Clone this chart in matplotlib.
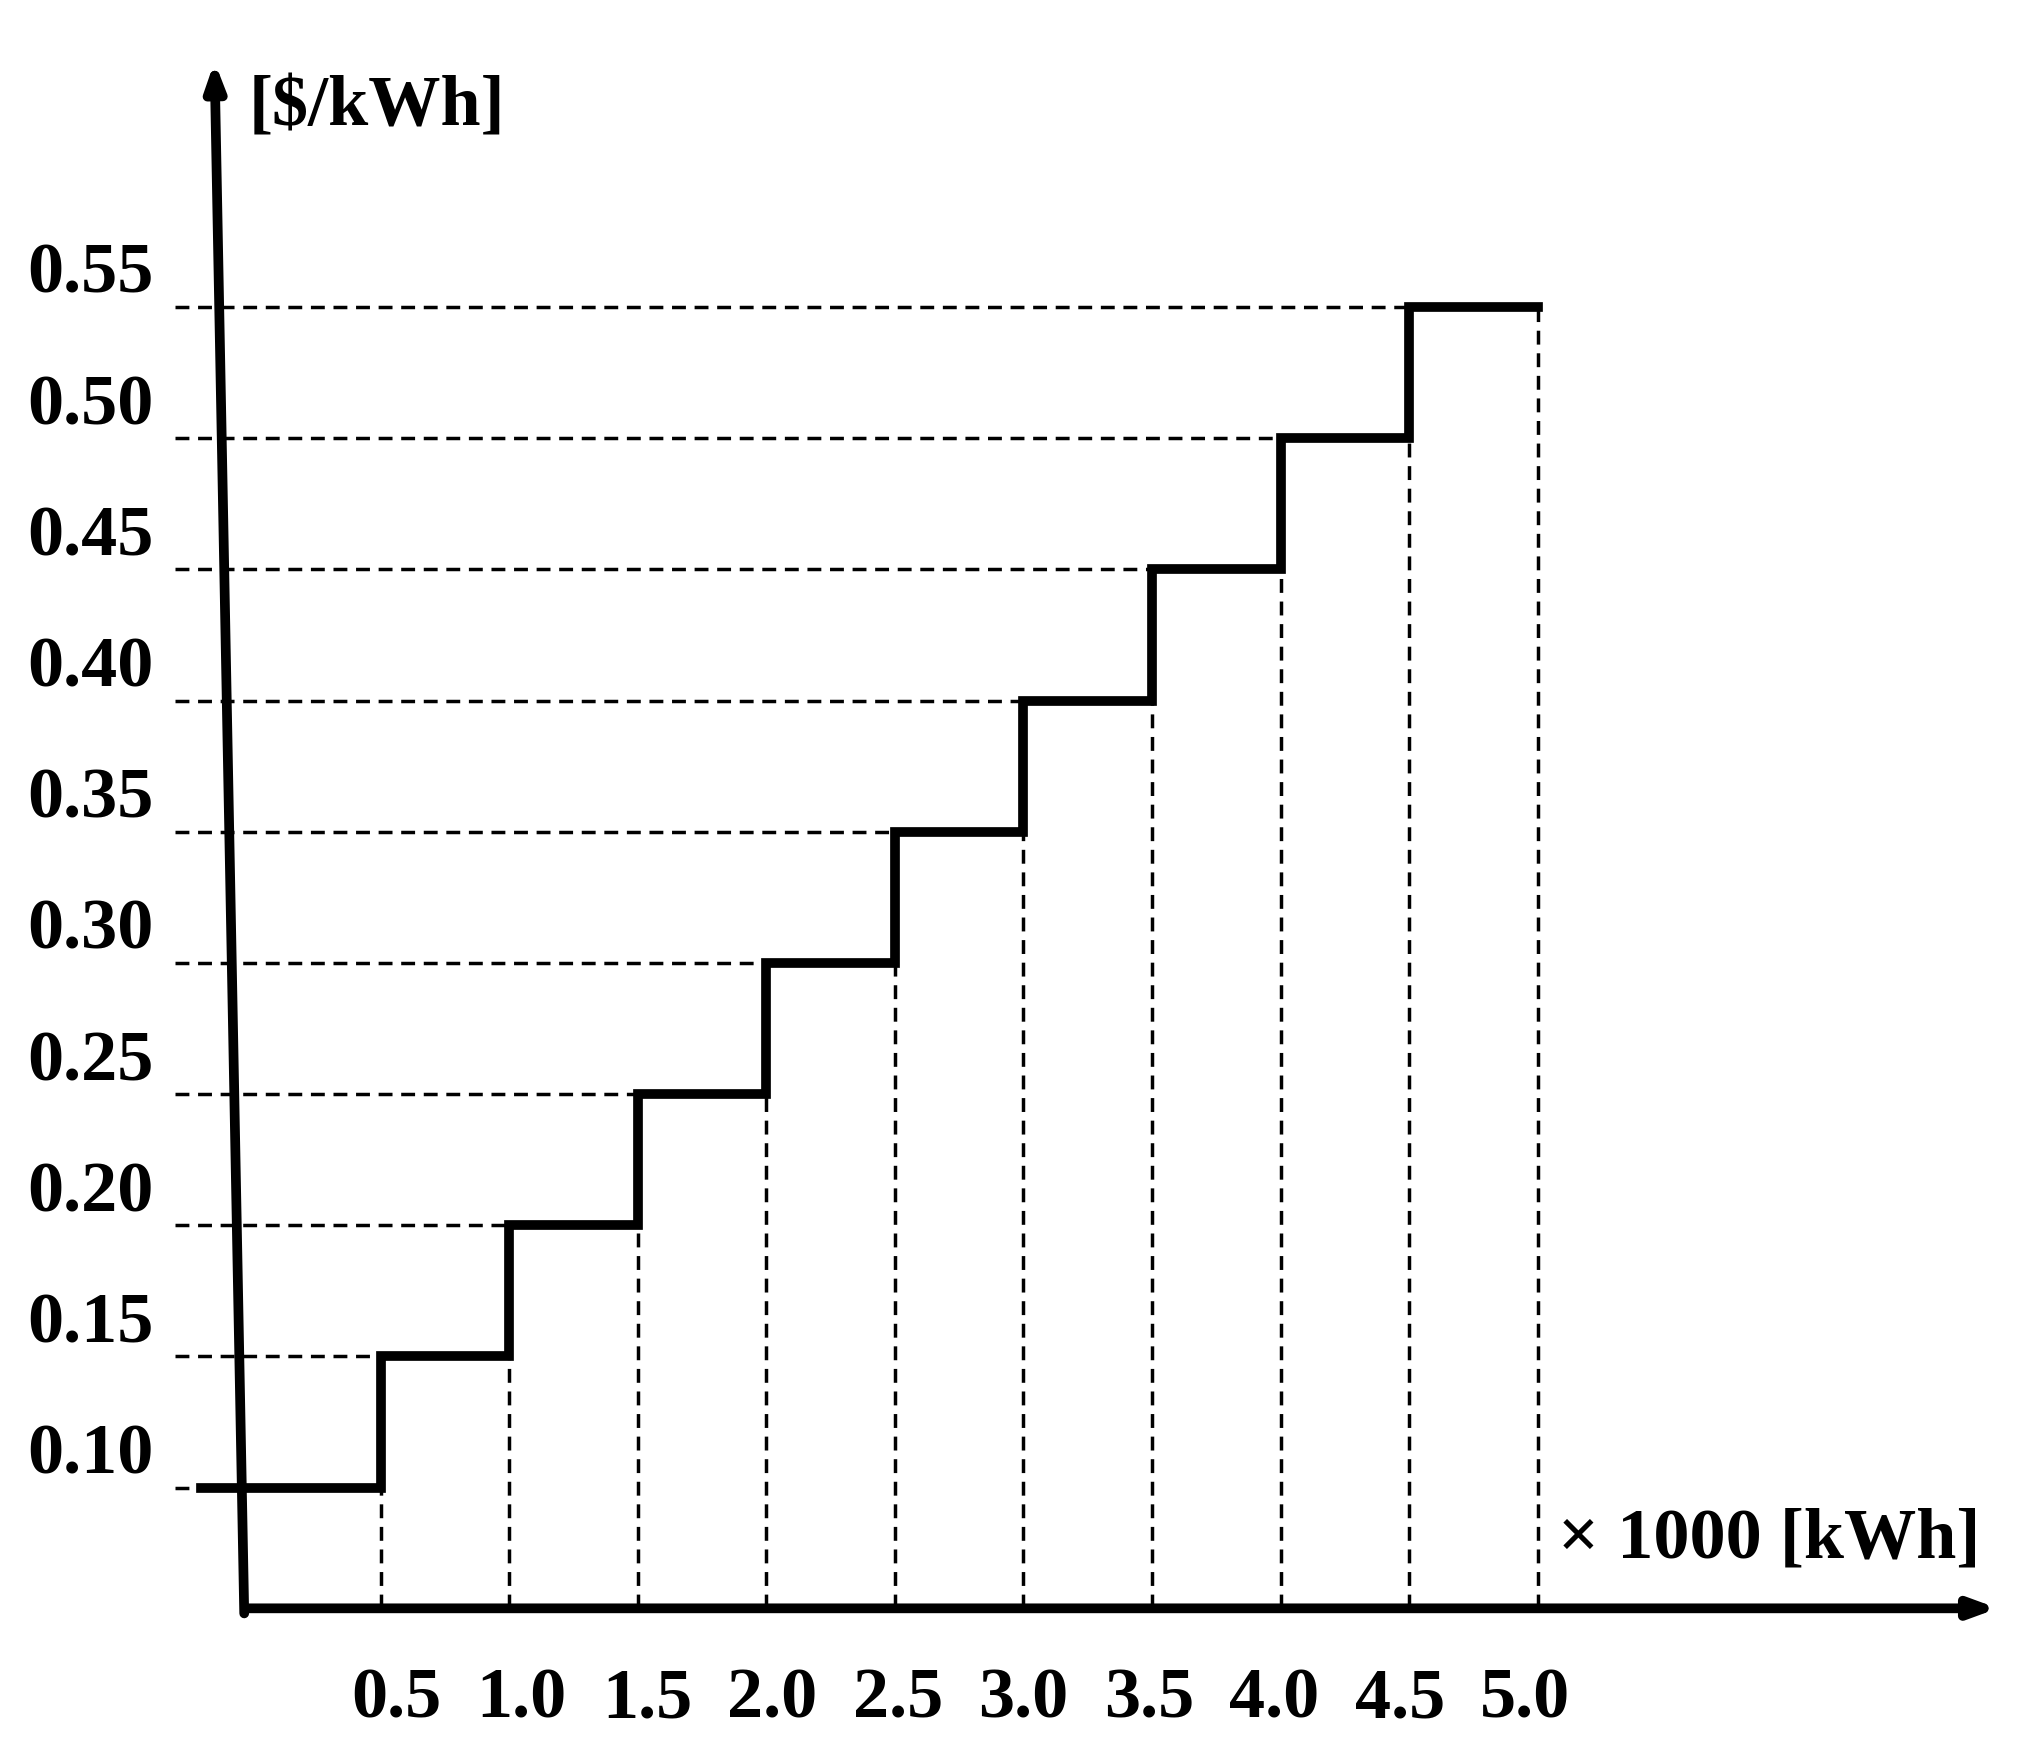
import matplotlib
matplotlib.use("Agg")
import matplotlib.pyplot as plt

x_edges = [0.5, 1.0, 1.5, 2.0, 2.5, 3.0, 3.5, 4.0, 4.5, 5.0]
prices = [0.10, 0.15, 0.20, 0.25, 0.30, 0.35, 0.40, 0.45, 0.50, 0.55]
x_labels = ["0.5", "1.0", "1.5", "2.0", "2.5", "3.0", "3.5", "4.0", "4.5", "5.0"]
y_labels = ["0.10", "0.15", "0.20", "0.25", "0.30", "0.35", "0.40", "0.45", "0.50", "0.55"]

fig = plt.figure(figsize=(20.26, 17.5), dpi=100)
ax = fig.add_axes([0, 0, 1, 1])
ax.set_xlim(-0.980, 6.899)
ax.set_ylim(0.0, 0.667)
ax.axis("off")
font = dict(family="Liberation Serif", fontweight="bold", fontsize=52)

starts = [-0.2] + x_edges[:-1]
ends = x_edges
for i, p in enumerate(prices):
    ax.plot([-0.30, starts[i]], [p, p], ls=(0, (4, 2.5)), color="black", lw=2.5, zorder=1)
    ax.plot([ends[i], ends[i]], [0.054, p], ls=(0, (4, 2.5)), color="black", lw=2.5, zorder=1)
xs, ys = [], []
for i, p in enumerate(prices):
    xs += [starts[i], ends[i]]
    ys += [p, p]
ax.plot(xs, ys, color="black", lw=7, solid_joinstyle="miter", zorder=3)

ax.annotate("", xy=(6.80, 0.054), xytext=(-0.035, 0.054),
            arrowprops=dict(arrowstyle="-|>,head_length=1.5,head_width=0.55", lw=7, color="black"), zorder=4)
ax.annotate("", xy=(-0.146, 0.6446), xytext=(-0.03, 0.051),
            arrowprops=dict(arrowstyle="-|>,head_length=1.5,head_width=0.55", lw=7, color="black"), zorder=4)

for i, (x, l) in enumerate(zip(x_edges, x_labels)):
    ax.text(x + 0.06 - 0.012 * i, 0.019, l, ha="center", va="center", **font)
for p, l in zip(prices, y_labels):
    ax.text(-0.63, p + 0.012, l, ha="center", va="center", **font)

ax.text(0.485, 0.626, "[\\$/kWh]", ha="center", va="center", **font)
ax.text(6.72, 0.080, "× 1000 [kWh]", ha="right", va="center", **font)

fig.savefig("out.png", dpi=100)
